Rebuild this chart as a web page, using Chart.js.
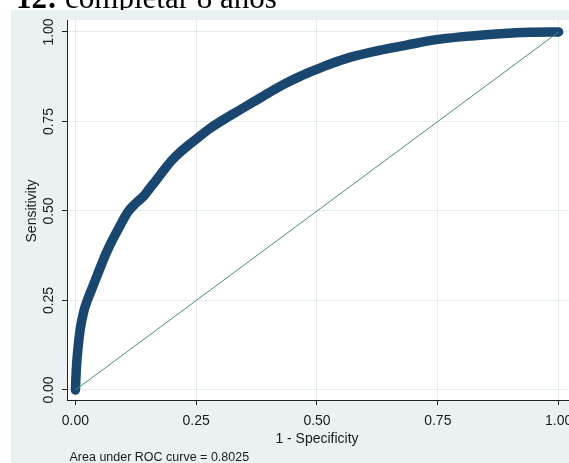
<!DOCTYPE html>
<html lang="es">
<head>
    <meta charset="UTF-8" />
    <title>Curva ROC</title>
    <script src="https://cdn.jsdelivr.net/npm/chart.js"></script>
    <style>
        html, body { margin: 0; padding: 0; overflow: hidden; background: #fff; }
        canvas { display: block; }
    </style>
</head>
<body>
    <canvas id="rocChart" width="600" height="463"></canvas>
    <script>
    const especificidad1 = [0, 0.002, 0.005, 0.010, 0.018, 0.026, 0.036, 0.048, 0.063, 0.077, 0.091, 0.100, 0.110,
        0.120, 0.130, 0.141, 0.152, 0.165, 0.178, 0.190, 0.200, 0.215, 0.235, 0.251, 0.280, 0.310, 0.340,
        0.370, 0.400, 0.430, 0.465, 0.500, 0.530, 0.568, 0.630, 0.672, 0.710, 0.755, 0.820, 0.879, 0.940, 1.0];
    const sensibilidad = [0, 0.060, 0.112, 0.170, 0.223, 0.255, 0.289, 0.330, 0.380, 0.420, 0.455, 0.478, 0.500,
        0.515, 0.528, 0.541, 0.560, 0.582, 0.605, 0.626, 0.642, 0.662, 0.685, 0.702, 0.732, 0.758, 0.782,
        0.806, 0.830, 0.853, 0.876, 0.896, 0.912, 0.929, 0.949, 0.960, 0.970, 0.980, 0.989, 0.995, 0.999, 1.0];
    const referencia = [0, 1];
    const ticksValores = [0, 0.25, 0.5, 0.75, 1];
    const ticksTexto = ['0.00', '0.25', '0.50', '0.75', '1.00'];

    const textoNegro = '#1a1a1a';
    const fuente = '"Liberation Sans", Arial, sans-serif';

    // fondo, título y textos girados
    const fondo = {
        id: 'fondo',
        beforeDraw(chart) {
            const { ctx, chartArea: a } = chart;
            ctx.save();
            ctx.fillStyle = '#fff';
            ctx.fillRect(0, 0, chart.width, chart.height);
            ctx.fillStyle = '#000';
            ctx.textBaseline = 'alphabetic';
            ctx.font = 'bold 31px "Liberation Serif", serif';
            ctx.fillText('12:', 16, 8);
            const w = ctx.measureText('12:').width;
            ctx.font = '31px "Liberation Serif", serif';
            ctx.fillText(' completar 8 años', 16 + w, 8);
            ctx.fillStyle = '#eaf1f3';
            ctx.fillRect(11, 10, chart.width, chart.height);
            ctx.fillStyle = '#fff';
            ctx.fillRect(a.left, a.top, a.right - a.left, a.bottom - a.top);
            ctx.restore();
        },
        afterDraw(chart) {
            const ctx = chart.ctx;
            const ys = chart.scales.y, xs = chart.scales.x;
            ctx.save();
            ctx.fillStyle = textoNegro;
            ctx.font = '14px ' + fuente;
            ctx.textAlign = 'center';
            ctx.textBaseline = 'middle';
            ticksValores.forEach((v, i) => {
                ctx.save();
                ctx.translate(49, ys.getPixelForValue(v));
                ctx.rotate(-Math.PI / 2);
                ctx.fillText(ticksTexto[i], 0, 0);
                ctx.restore();
            });
            ctx.save();
            ctx.translate(32, ys.getPixelForValue(0.5));
            ctx.rotate(-Math.PI / 2);
            ctx.fillText('Sensitivity', 0, 0);
            ctx.restore();
            ctx.textBaseline = 'alphabetic';
            ctx.fillText('1 - Specificity', xs.getPixelForValue(0.5), 443);
            ctx.textAlign = 'left';
            ctx.font = '12.5px ' + fuente;
            ctx.fillText('Area under ROC curve = 0.8025', 69.5, 461);
            ctx.restore();
        }
    };

    const ctx = document.getElementById('rocChart').getContext('2d');
    new Chart(ctx, {
        type: 'line',
        data: {
            datasets: [
                {
                    data: referencia.map((v, i) => ({ x: v, y: referencia[i] })),
                    borderColor: '#4a8c80',
                    borderWidth: 1,
                    pointRadius: 0
                },
                {
                    data: especificidad1.map((v, i) => ({ x: v, y: sensibilidad[i] })),
                    borderColor: '#1a476f',
                    borderWidth: 9.5,
                    borderCapStyle: 'round',
                    borderJoinStyle: 'round',
                    cubicInterpolationMode: 'monotone',
                    pointRadius: 0
                }
            ]
        },
        options: {
            responsive: false,
            animation: false,
            layout: { padding: { top: 20, left: 0, right: 0, bottom: 0 } },
            plugins: { legend: { display: false }, tooltip: { enabled: false } },
            scales: {
                x: {
                    type: 'linear',
                    min: -0.0174,
                    max: 1.0857,
                    afterBuildTicks: s => { s.ticks = ticksValores.map(v => ({ value: v })); },
                    afterFit: s => { s.height = 63; },
                    grid: { color: '#e4ecef', tickColor: '#222', tickLength: 5 },
                    border: { color: '#222', width: 1 },
                    ticks: {
                        autoSkip: false,
                        maxRotation: 0,
                        padding: 8,
                        color: textoNegro,
                        font: { family: fuente, size: 14 },
                        callback: (v, i) => ticksTexto[i]
                    }
                },
                y: {
                    type: 'linear',
                    min: -0.028,
                    max: 1.0335,
                    afterBuildTicks: s => { s.ticks = ticksValores.map(v => ({ value: v })); },
                    afterFit: s => { s.width = 67; },
                    grid: { color: '#e4ecef', tickColor: '#222', tickLength: 5 },
                    border: { color: '#222', width: 1 },
                    ticks: { display: false }
                }
            }
        },
        plugins: [fondo]
    });
    </script>
</body>
</html>
